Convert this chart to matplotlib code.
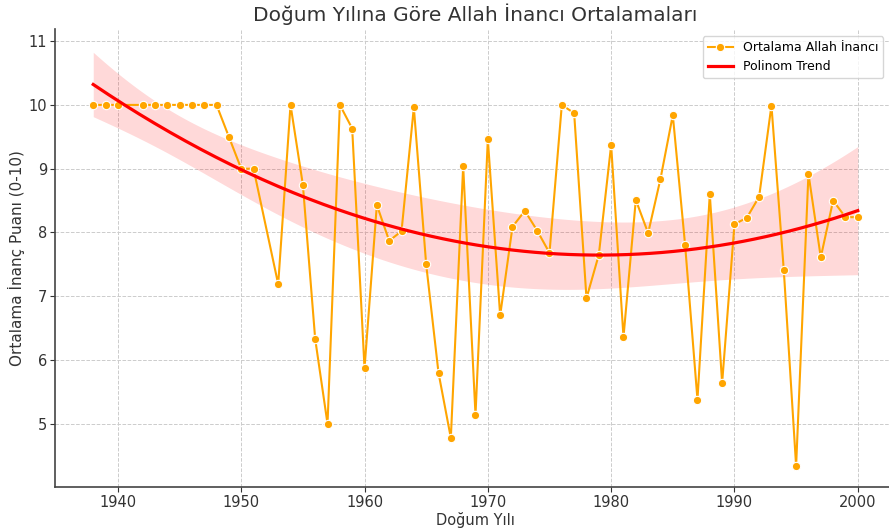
import numpy as np
import matplotlib
matplotlib.use('Agg')
import matplotlib.pyplot as plt

plt.rcParams['font.family'] = ['DejaVu Sans']

# yıllara göre ortalama puanlar (1941 ve 1952 yok)
years = [1938, 1939, 1940, 1942, 1943, 1944, 1945, 1946, 1947, 1948,
         1949, 1950, 1951, 1953, 1954, 1955, 1956, 1957, 1958, 1959,
         1960, 1961, 1962, 1963, 1964, 1965, 1966, 1967, 1968, 1969,
         1970, 1971, 1972, 1973, 1974, 1975, 1976, 1977, 1978, 1979,
         1980, 1981, 1982, 1983, 1984, 1985, 1986, 1987, 1988, 1989,
         1990, 1991, 1992, 1993, 1994, 1995, 1996, 1997, 1998, 1999,
         2000]
means = [10.0, 10.0, 10.0, 10.0, 10.0, 10.0, 10.0, 10.0, 10.0, 10.0,
         9.50, 9.00, 9.00, 7.19, 10.0, 8.75, 6.33, 5.00, 10.0, 9.63,
         5.87, 8.43, 7.87, 8.02, 9.96, 7.50, 5.80, 4.78, 9.04, 5.14,
         9.46, 6.70, 8.09, 8.34, 8.03, 7.68, 10.0, 9.87, 6.97, 7.65,
         9.37, 6.36, 8.51, 7.99, 8.84, 9.84, 7.80, 5.38, 8.60, 5.64,
         8.13, 8.23, 8.56, 9.99, 7.41, 4.34, 8.92, 7.61, 8.50, 8.24,
         8.24]

x = np.array(years, dtype=float)
y = np.array(means)

# 2. derece polinom trend + (heteroskedastik) %95 güven bandı
coef = np.polyfit(x - x.mean(), y, 2)
xs = np.linspace(x.min(), x.max(), 200)
X = np.vander(x - x.mean(), 3)
Xs = np.vander(xs - x.mean(), 3)
fit = Xs @ coef
resid = y - X @ coef
XtX_inv = np.linalg.inv(X.T @ X)
h = np.einsum('ij,jk,ik->i', X, XtX_inv, X)
meat = X.T @ (X * (resid ** 2 / (1 - h) ** 2)[:, None])
cov = XtX_inv @ meat @ XtX_inv
se = np.sqrt(np.einsum('ij,jk,ik->i', Xs, cov, Xs))
band = 1.96 * se

fig = plt.figure(figsize=(8.89, 5.32), dpi=100)
ax = fig.add_axes([55 / 889, 45 / 532, 841 / 889, 458 / 532])

ax.fill_between(xs, fit - band, fit + band, color='red', alpha=0.15, linewidth=0)
ax.plot(x, y, color='orange', marker='o', markersize=6, markeredgecolor='white',
        markeredgewidth=0.8, linewidth=1.5, label='Ortalama Allah İnancı', zorder=3)
ax.plot(xs, fit, color='red', linewidth=2.3, label='Polinom Trend', zorder=4)

ax.set_xlim(1934.9, 2003.1)
ax.set_ylim(4.01, 11.19)
ax.set_xticks([1940, 1950, 1960, 1970, 1980, 1990, 2000])
ax.set_yticks([5, 6, 7, 8, 9, 10, 11])
ax.grid(True, linestyle='--', color='#cccccc', linewidth=0.7)
ax.set_axisbelow(True)
ax.tick_params(labelsize=10.5, colors='#333333', length=3.5, pad=2)
for side in ['left', 'bottom']:
    ax.spines[side].set_color('#444444')
    ax.spines[side].set_linewidth(1.2)
ax.spines['top'].set_visible(False)

ax.set_title('Doğum Yılına Göre Allah İnancı Ortalamaları', fontsize=14.5, color='#333333', pad=6)
ax.set_xlabel('Doğum Yılı', fontsize=10.5, color='#333333', labelpad=1.5)
ax.set_ylabel('Ortalama İnanç Puanı (0-10)', fontsize=11, color='#333333', labelpad=3)
ax.legend(loc='upper right', fontsize=9, bbox_to_anchor=(0.9925, 0.998))

fig.savefig('out.png', dpi=100)
